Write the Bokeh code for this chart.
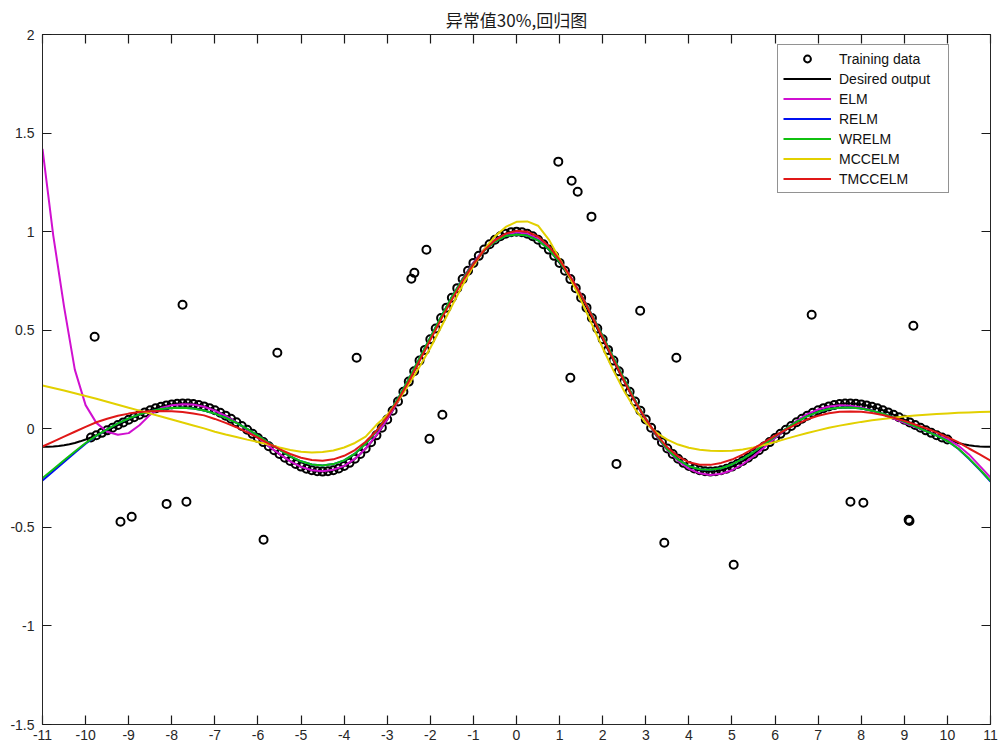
import numpy as np
from bokeh.plotting import figure
from bokeh.models import LinearAxis, FixedTicker, Range1d
from bokeh.embed import file_html
from bokeh.resources import INLINE

# ---------------- data ----------------
x_ticks = list(range(-11, 12))
x_tick_labels = [str(v) for v in x_ticks]
y_ticks = [-1.5, -1, -0.5, 0, 0.5, 1, 1.5, 2]
y_tick_labels = ["-1.5", "-1", "-0.5", "0", "0.5", "1", "1.5", "2"]

title_text = "异常值30%,回归图"
legend_names = ["Training data", "Desired output", "ELM", "RELM", "WRELM", "MCCELM", "TMCCELM"]

# desired output, sampled every 0.125 from -11 to 11
x_desired = np.arange(-11, 11.0001, 0.125)
desired_y = [
    -0.0909, -0.0913, -0.0902, -0.0877, -0.0838, -0.0784, -0.0717, -0.0636,
    -0.0544, -0.0441, -0.0328, -0.0207, -0.0079, 0.0053, 0.0188, 0.0324,
    0.0458, 0.0589, 0.0714, 0.0832, 0.0939, 0.1036, 0.1118, 0.1186,
    0.1237, 0.1270, 0.1283, 0.1277, 0.1251, 0.1203, 0.1135, 0.1047,
    0.0939, 0.0811, 0.0667, 0.0506, 0.0331, 0.0144, -0.0053, -0.0257,
    -0.0466, -0.0676, -0.0884, -0.1087, -0.1283, -0.1467, -0.1636, -0.1788,
    -0.1918, -0.2024, -0.2104, -0.2154, -0.2172, -0.2156, -0.2106, -0.2018,
    -0.1892, -0.1728, -0.1524, -0.1282, -0.1002, -0.0685, -0.0333, 0.0053,
    0.0470, 0.0916, 0.1388, 0.1882, 0.2394, 0.2921, 0.3458, 0.4002,
    0.4546, 0.5089, 0.5623, 0.6145, 0.6650, 0.7134, 0.7592, 0.8020,
    0.8415, 0.8772, 0.9089, 0.9362, 0.9589, 0.9767, 0.9896, 0.9974,
    1.0000,
    0.9974, 0.9896, 0.9767, 0.9589, 0.9362, 0.9089, 0.8772, 0.8415,
    0.8020, 0.7592, 0.7134, 0.6650, 0.6145, 0.5623, 0.5089, 0.4546,
    0.4002, 0.3458, 0.2921, 0.2394, 0.1882, 0.1388, 0.0916, 0.0470,
    0.0053, -0.0333, -0.0685, -0.1002, -0.1282, -0.1524, -0.1728, -0.1892,
    -0.2018, -0.2106, -0.2156, -0.2172, -0.2154, -0.2104, -0.2024, -0.1918,
    -0.1788, -0.1636, -0.1467, -0.1283, -0.1087, -0.0884, -0.0676, -0.0466,
    -0.0257, -0.0053, 0.0144, 0.0331, 0.0506, 0.0667, 0.0811, 0.0939,
    0.1047, 0.1135, 0.1203, 0.1251, 0.1277, 0.1283, 0.1270, 0.1237,
    0.1186, 0.1118, 0.1036, 0.0939, 0.0832, 0.0714, 0.0589, 0.0458,
    0.0324, 0.0188, 0.0053, -0.0079, -0.0207, -0.0328, -0.0441, -0.0544,
    -0.0636, -0.0717, -0.0784, -0.0838, -0.0877, -0.0902, -0.0913, -0.0909,
]

# fitted model outputs, sampled every 0.25 from -11 to 11
x_fit = np.arange(-11, 11.0001, 0.25)
elm_y = [
    1.420, 0.980, 0.620, 0.300,
    0.120, 0.030, -0.015, -0.030,
    -0.022, 0.018, 0.072, 0.105,
    0.120, 0.124, 0.123, 0.112,
    0.092, 0.065, 0.032, -0.005,
    -0.045, -0.088, -0.128, -0.165,
    -0.193, -0.210, -0.215, -0.208,
    -0.188, -0.153, -0.100, -0.032,
    0.048, 0.140, 0.242, 0.350,
    0.458, 0.565, 0.667, 0.762,
    0.843, 0.910, 0.958, 0.987,
    0.995, 0.990, 0.963, 0.918,
    0.853, 0.773, 0.680, 0.577,
    0.468, 0.357, 0.247, 0.143,
    0.046, -0.038, -0.108, -0.163,
    -0.203, -0.226, -0.234, -0.228,
    -0.210, -0.180, -0.140, -0.095,
    -0.047, -0.002, 0.040, 0.074,
    0.098, 0.113, 0.119, 0.117,
    0.108, 0.093, 0.074, 0.052,
    0.030, 0.009, -0.012, -0.032,
    -0.052, -0.085, -0.130, -0.188,
    -0.247,
]
relm_y = [
    -0.262, -0.215, -0.168, -0.121,
    -0.076, -0.036, -0.003, 0.027,
    0.052, 0.073, 0.089, 0.100,
    0.106, 0.107, 0.103, 0.093,
    0.077, 0.056, 0.030, 0.000,
    -0.035, -0.071, -0.106, -0.140,
    -0.165, -0.181, -0.186, -0.179,
    -0.160, -0.126, -0.076, -0.012,
    0.064, 0.153, 0.253, 0.358,
    0.463, 0.568, 0.668, 0.758,
    0.838, 0.903, 0.950, 0.978,
    0.986, 0.980, 0.956, 0.911,
    0.847, 0.767, 0.677, 0.577,
    0.471, 0.361, 0.251, 0.146,
    0.051, -0.034, -0.104, -0.156,
    -0.190, -0.205, -0.208, -0.200,
    -0.181, -0.153, -0.118, -0.079,
    -0.039, 0.000, 0.035, 0.064,
    0.086, 0.100, 0.107, 0.108,
    0.103, 0.092, 0.077, 0.058,
    0.036, 0.012, -0.012, -0.035,
    -0.062, -0.101, -0.152, -0.208,
    -0.268,
]
wrelm_y = [
    -0.250, -0.205, -0.160, -0.115,
    -0.072, -0.035, -0.003, 0.027,
    0.052, 0.073, 0.089, 0.100,
    0.106, 0.107, 0.103, 0.093,
    0.077, 0.056, 0.030, 0.000,
    -0.035, -0.071, -0.106, -0.140,
    -0.165, -0.181, -0.186, -0.179,
    -0.160, -0.126, -0.076, -0.012,
    0.064, 0.153, 0.253, 0.358,
    0.463, 0.568, 0.668, 0.758,
    0.838, 0.903, 0.950, 0.978,
    0.986, 0.980, 0.956, 0.911,
    0.847, 0.767, 0.677, 0.577,
    0.471, 0.361, 0.251, 0.146,
    0.051, -0.034, -0.104, -0.156,
    -0.190, -0.205, -0.208, -0.200,
    -0.181, -0.153, -0.118, -0.079,
    -0.039, 0.000, 0.035, 0.064,
    0.086, 0.100, 0.107, 0.108,
    0.103, 0.092, 0.077, 0.058,
    0.036, 0.012, -0.012, -0.035,
    -0.062, -0.100, -0.150, -0.205,
    -0.264,
]
mccelm_y = [
    0.220, 0.207, 0.194, 0.180,
    0.166, 0.152, 0.137, 0.122,
    0.107, 0.092, 0.077, 0.062,
    0.047, 0.032, 0.017, 0.002,
    -0.015, -0.029, -0.042, -0.055,
    -0.067, -0.080, -0.095, -0.108,
    -0.116, -0.120, -0.118, -0.110,
    -0.095, -0.072, -0.040, 0.020,
    0.070, 0.140, 0.225, 0.315,
    0.410, 0.515, 0.622, 0.728,
    0.826, 0.910, 0.976, 1.024,
    1.050, 1.052, 1.030, 0.960,
    0.862, 0.762, 0.650, 0.530,
    0.410, 0.295, 0.190, 0.100,
    0.030, -0.020, -0.055, -0.080,
    -0.096, -0.106, -0.111, -0.113,
    -0.111, -0.105, -0.095, -0.082,
    -0.067, -0.051, -0.036, -0.021,
    -0.008, 0.005, 0.016, 0.026,
    0.035, 0.043, 0.050, 0.056,
    0.062, 0.067, 0.071, 0.075,
    0.078, 0.081, 0.083, 0.085,
    0.086,
]
tmccelm_y = [
    -0.090, -0.065, -0.040, -0.015,
    0.010, 0.033, 0.051, 0.066,
    0.077, 0.085, 0.089, 0.090,
    0.089, 0.085, 0.078, 0.068,
    0.050, 0.030, 0.008, -0.018,
    -0.045, -0.075, -0.103, -0.128,
    -0.147, -0.158, -0.162, -0.155,
    -0.137, -0.108, -0.066, -0.010,
    0.060, 0.145, 0.240, 0.345,
    0.450, 0.555, 0.655, 0.750,
    0.835, 0.905, 0.956, 0.990,
    1.004, 1.000, 0.975, 0.926,
    0.857, 0.772, 0.677, 0.572,
    0.462, 0.351, 0.241, 0.140,
    0.050, -0.030, -0.094, -0.140,
    -0.170, -0.182, -0.183, -0.173,
    -0.156, -0.131, -0.101, -0.068,
    -0.035, -0.004, 0.024, 0.048,
    0.066, 0.079, 0.086, 0.088,
    0.086, 0.080, 0.070, 0.056,
    0.040, 0.022, 0.003, -0.018,
    -0.042, -0.068, -0.100, -0.130,
    -0.162,
]

# training data: outliers (the inliers lie on the desired curve)
outlier_x = [-9.79, -9.19, -8.93, -8.12, -7.75, -7.66, -5.87, -5.55, -3.71, -2.44,
             -2.37, -2.09, -2.02, -1.72, 0.97, 1.28, 1.42, 1.74, 1.25, 2.32,
             2.87, 3.43, 3.71, 5.04, 6.85, 7.75, 8.05, 9.10, 9.12, 9.21]
outlier_y = [0.467, -0.472, -0.446, -0.381, 0.629, -0.370, -0.563, 0.386, 0.360, 0.761,
             0.791, 0.908, -0.051, 0.071, 1.355, 1.258, 1.202, 1.076, 0.259, -0.178,
             0.599, -0.578, 0.360, -0.690, 0.578, -0.370, -0.375, -0.462, -0.468, 0.523]
inlier_range = (-9.875, 10.0)

# ---------------- figure ----------------
AX = "#262626"
TICK_FONT = "Liberation Sans"

p = figure(width=1000, height=749, x_range=Range1d(-11, 11), y_range=Range1d(-1.5, 2),
           output_backend="svg", toolbar_location=None,
           min_border_left=42, min_border_right=10, min_border_top=34, min_border_bottom=25)
p.background_fill_color = "white"
p.border_fill_color = "white"
p.grid.visible = False
p.outline_line_color = AX
p.outline_line_width = 1

p.title.text = title_text
p.title.align = "center"
p.title.text_font = "Noto Sans CJK SC"
p.title.text_font_size = "17px"
p.title.text_font_style = "normal"
p.title.text_color = "#1a1a1a"
p.title.standoff = 6


def style_axis(ax, ticks, labels, show):
    ax.ticker = FixedTicker(ticks=ticks)
    ax.major_tick_in = 9
    ax.major_tick_out = 0
    ax.minor_tick_in = 0
    ax.minor_tick_out = 0
    ax.axis_line_color = AX
    ax.major_tick_line_color = "#1a1a1a"
    ax.major_tick_line_width = 1.2
    ax.major_label_text_font = TICK_FONT
    ax.major_label_text_color = AX
    ax.major_label_text_font_size = "14px"
    if show:
        ax.major_label_overrides = {t: l for t, l in zip(ticks, labels)}
        ax.major_label_standoff = 6
    else:
        ax.major_label_overrides = {t: "" for t in ticks}
        ax.major_label_standoff = 0


style_axis(p.xaxis[0], x_ticks, x_tick_labels, True)
p.xaxis[0].major_label_standoff = 5
style_axis(p.yaxis[0], y_ticks, y_tick_labels, True)
p.yaxis[0].major_label_standoff = 8

top_ax = LinearAxis()
style_axis(top_ax, x_ticks, x_tick_labels, False)
p.add_layout(top_ax, "above")
right_ax = LinearAxis()
style_axis(right_ax, y_ticks, y_tick_labels, False)
p.add_layout(right_ax, "right")

# training data
xd = np.asarray(x_desired)
yd = np.asarray(desired_y)
mask = (xd >= inlier_range[0] - 1e-9) & (xd <= inlier_range[1] + 1e-9)
train_x = np.concatenate([xd[mask], np.asarray(outlier_x)])
train_y = np.concatenate([yd[mask], np.asarray(outlier_y)])

p.scatter(train_x, train_y, marker="circle", size=8, fill_color=None,
          line_color="black", line_width=2, legend_label=legend_names[0])
p.line(xd, yd, line_color="black", line_width=2, legend_label=legend_names[1])

series = [
    (elm_y, "#d010d0", legend_names[2]),
    (relm_y, "#0010f0", legend_names[3]),
    (wrelm_y, "#10c010", legend_names[4]),
    (mccelm_y, "#e2d000", legend_names[5]),
    (tmccelm_y, "#e01818", legend_names[6]),
]
for ys, col, name in series:
    p.line(x_fit, ys, line_color=col, line_width=2, legend_label=name)

leg = p.legend[0]
leg.location = (735, 531)
leg.border_line_color = AX
leg.border_line_width = 1
leg.background_fill_color = "white"
leg.background_fill_alpha = 1
leg.label_text_font = TICK_FONT
leg.label_text_font_size = "14px"
leg.label_text_color = "#111111"
leg.glyph_width = 48
leg.glyph_height = 17
leg.label_height = 17
leg.label_width = 104
leg.label_standoff = 8
leg.spacing = 3
leg.padding = 5
leg.margin = 0

open("out.html", "w").write(file_html(p, INLINE))
